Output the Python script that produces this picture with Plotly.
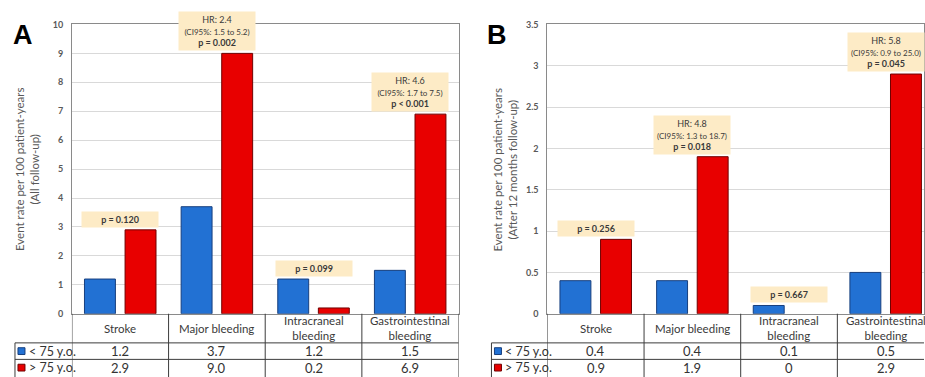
import plotly.graph_objects as go

# ---------------- data ----------------
categories = ["Stroke", "Major bleeding", "Intracraneal bleeding", "Gastrointestinal bleeding"]
cat_labels = ["Stroke", "Major bleeding", "Intracraneal<br>bleeding", "Gastrointestinal<br>bleeding"]
group_labels = ["&lt; 75 y.o.", "&gt; 75 y.o."]

a_young = [1.2, 3.7, 1.2, 1.5]
a_old = [2.9, 9.0, 0.2, 6.9]
b_young = [0.4, 0.4, 0.1, 0.5]
b_old = [0.9, 1.9, 0, 2.9]

a_hr = [None, "HR: 2.4", None, "HR: 4.6"]
a_ci = [None, "(CI95%: 1.5 to 5.2)", None, "(CI95%: 1.7 to 7.5)"]
a_p = ["p = 0.120", "p = 0.002", "p = 0.099", "p &lt; 0.001"]
b_hr = [None, "HR: 4.8", None, "HR: 5.8"]
b_ci = [None, "(CI95%: 1.3 to 18.7)", None, "(CI95%: 0.9 to 25.0)"]
b_p = ["p = 0.256", "p = 0.018", "p = 0.667", "p = 0.045"]

a_ticks = [0, 1, 2, 3, 4, 5, 6, 7, 8, 9, 10]
b_ticks = [0, 0.5, 1, 1.5, 2, 2.5, 3, 3.5]
a_tick_text = [str(v) for v in a_ticks]
b_tick_text = ["0", "0.5", "1", "1.5", "2", "2.5", "3", "3.5"]

a_ytitle = "Event rate per 100 patient-years<br>(All follow-up)"
b_ytitle = "Event rate per 100 patient-years<br>(After 12 months follow-up)"

# ---------------- style ----------------
W, H = 925, 377
FONT = "Lato"
BLUE, BLUE_EDGE = "#2271D3", "#173F7E"
RED, RED_EDGE = "#E80000", "#700000"
BOX = "#FDEBC6"
GRID = "#D9D9D9"
FRAME = "#8A8A8A"
TLINE = "#3C3C3C"
TXT = "#3A3A3A"


def py(px):
    return 1 - px / H


def px_x(px):
    return px / W


Y_TOP, Y_ZERO = py(19), py(317)
ROW1, ROW2, ROW3 = py(347), py(364), py(381)
CAT_W = 96.75

panels = [
    dict(xa="x", ya="y", xdom=[px_x(72), px_x(459)], young=a_young, old=a_old,
         hr=a_hr, ci=a_ci, p=a_p, ymax=10, ticks=a_ticks, ttext=a_tick_text,
         title=a_ytitle, title_x=px_x(27), label_left=px_x(15), letter="A", letter_x=px_x(23)),
    dict(xa="x2", ya="y2", xdom=[px_x(548), 1.0], young=b_young, old=b_old,
         hr=b_hr, ci=b_ci, p=b_p, ymax=3.5, ticks=b_ticks, ttext=b_tick_text,
         title=b_ytitle, title_x=px_x(506), label_left=px_x(492), letter="B", letter_x=px_x(498)),
]

fig = go.Figure()
shapes = []
annotations = []

for i, P in enumerate(panels):
    sfx = "" if i == 0 else "2"
    dom_px = (P["xdom"][1] - P["xdom"][0]) * W
    xr = [-0.5, -0.5 + dom_px / CAT_W]

    fig.add_trace(go.Bar(
        x=categories, y=P["young"], width=0.32, offset=-0.37,
        marker=dict(color=BLUE, line=dict(color=BLUE_EDGE,
                                          width=[0 if v == 0 else 1 for v in P["young"]])),
        xaxis=P["xa"], yaxis=P["ya"], showlegend=False, hoverinfo="y"))
    fig.add_trace(go.Bar(
        x=categories, y=P["old"], width=0.32, offset=0.05,
        marker=dict(color=RED, line=dict(color=RED_EDGE,
                                         width=[0 if v == 0 else 1 for v in P["old"]])),
        xaxis=P["xa"], yaxis=P["ya"], showlegend=False, hoverinfo="y"))

    fig.update_layout(**{
        "xaxis" + sfx: dict(domain=P["xdom"], range=xr, type="category",
                            categoryorder="array", categoryarray=categories,
                            showticklabels=False, showgrid=False, zeroline=False,
                            showline=True, linecolor=FRAME, linewidth=1, mirror=True,
                            anchor=P["ya"], fixedrange=True),
        "yaxis" + sfx: dict(domain=[Y_ZERO, Y_TOP], range=[0, P["ymax"]],
                            tickvals=P["ticks"], ticktext=P["ttext"],
                            tickfont=dict(family=FONT, size=9, color="#595959", weight="bold"),
                            showgrid=True, gridcolor=GRID, gridwidth=1, zeroline=False,
                            showline=True, linecolor=FRAME, linewidth=1, mirror=True,
                            ticks="", ticklabelstandoff=6,
                            anchor=P["xa"], fixedrange=True),
    })

    # HR / p boxes
    for j, c in enumerate(categories):
        top = max(P["young"][j], P["old"][j])
        if P["hr"][j]:
            txt = (f"<span style='font-size:9px'>{P['hr'][j]}</span><br>"
                   f"<span style='font-size:8px'>{P['ci'][j]}</span><br>"
                   f"<b>{P['p'][j]}</b>")
        else:
            txt = f"<b>{P['p'][j]}</b>"
        annotations.append(dict(
            x=c, y=top, xref=P["xa"], yref=P["ya"], xanchor="center", yanchor="bottom", yshift=2,
            text=txt, showarrow=False, bgcolor=BOX, width=72, borderpad=2,
            font=dict(family=FONT, size=9, color="#3A3A3A")))

    # table: category labels and values
    for j, c in enumerate(categories):
        annotations.append(dict(
            x=c, y=(Y_ZERO + ROW1) / 2, xref=P["xa"], yref="paper",
            xanchor="center", yanchor="middle",
            text=cat_labels[j], showarrow=False,
            font=dict(family=FONT, size=11.5, color=TXT)))
        for v, yy in ((P["young"][j], (ROW1 + ROW2) / 2), (P["old"][j], (ROW2 + ROW3) / 2)):
            annotations.append(dict(
                x=c, y=yy, xref=P["xa"], yref="paper", xanchor="center", yanchor="middle",
                text="0" if v == 0 else f"{v:.1f}", showarrow=False,
                font=dict(family=FONT, size=13, color="#333333")))

    # table lines
    for k in range(len(categories) + 1):
        shapes.append(dict(type="line", xref=P["xa"], yref="paper",
                           x0=k - 0.5, x1=k - 0.5, y0=Y_ZERO, y1=-0.02,
                           line=dict(color=TLINE, width=1)))
    for yy in (ROW1, ROW2):
        shapes.append(dict(type="line", xref="paper", yref="paper",
                           x0=P["label_left"], x1=P["xdom"][1], y0=yy, y1=yy,
                           line=dict(color=TLINE, width=1)))
    shapes.append(dict(type="line", xref="paper", yref="paper",
                       x0=P["label_left"], x1=P["label_left"], y0=ROW1, y1=-0.02,
                       line=dict(color=TLINE, width=1)))

    # row labels with colour keys
    for r, (col, edge, yy) in enumerate(((BLUE, BLUE_EDGE, (ROW1 + ROW2) / 2),
                                         (RED, RED_EDGE, (ROW2 + ROW3) / 2))):
        sx = P["label_left"] + px_x(3)
        shapes.append(dict(type="rect", xref="paper", yref="paper",
                           x0=sx, x1=sx + px_x(7), y0=yy - 3.5 / H, y1=yy + 3.5 / H,
                           fillcolor=col, line=dict(color=edge, width=1)))
        annotations.append(dict(
            x=sx + px_x(9), y=yy, xref="paper", yref="paper", xanchor="left", yanchor="middle",
            text=group_labels[r], showarrow=False,
            font=dict(family=FONT, size=12.5, color="#333333")))

    # y-axis title
    annotations.append(dict(
        x=P["title_x"], y=(Y_TOP + Y_ZERO) / 2, xref="paper", yref="paper",
        xanchor="center", yanchor="middle",
        text=P["title"], textangle=-90, showarrow=False,
        font=dict(family=FONT, size=11.5, color="#595959")))

    # panel letter
    annotations.append(dict(
        x=P["letter_x"], y=py(30), xref="paper", yref="paper",
        xanchor="center", yanchor="middle",
        text=f"<b>{P['letter']}</b>", showarrow=False,
        font=dict(family="Liberation Sans", size=27, color="#000000")))

fig.update_layout(
    width=W, height=H, margin=dict(l=0, r=0, t=0, b=0),
    paper_bgcolor="white", plot_bgcolor="white",
    barmode="overlay", shapes=shapes, annotations=annotations,
    font=dict(family=FONT),
)

fig.write_html("out.html", config={"displayModeBar": False},
               post_script="document.body.style.margin='0';")
